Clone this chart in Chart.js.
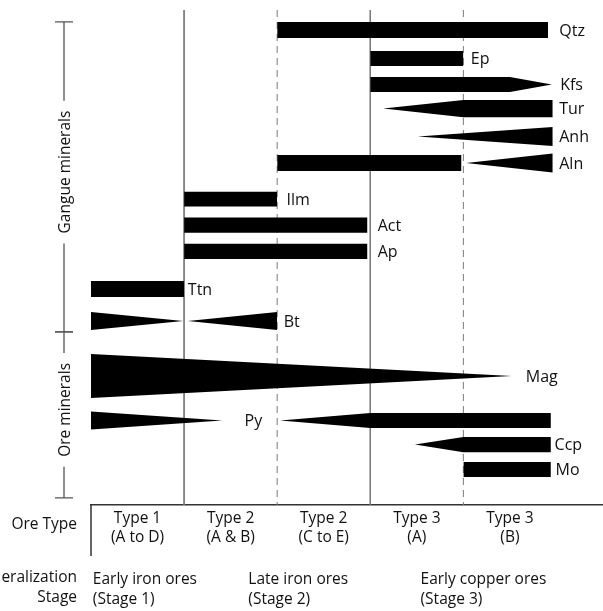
<!DOCTYPE html>
<html>
<head>
<meta charset="utf-8">
<script src="https://cdn.jsdelivr.net/npm/chart.js@4"></script>
<style>
  html, body { margin: 0; padding: 0; background: #fff; }
  #wrap { width: 603px; height: 611px; }
</style>
</head>
<body>
<div id="wrap"><canvas id="myChart"></canvas></div>
<script>
// minerals, top to bottom, and the row each one sits on
const minerals = ['Qtz', 'Ep', 'Kfs', 'Tur', 'Anh', 'Aln', 'Ilm', 'Act', 'Ap', 'Ttn', 'Bt', 'Mag', 'Py', 'Ccp', 'Mo'];
const rows = [0, 1.05, 2.01, 2.9, 3.93, 4.91, 6.24, 7.2, 8.17, 9.56, 10.74, 12.77, 14.41, 15.3, 16.22];

// abundance profile of each mineral: pieces of [stage position, thickness]
const profiles = [
  [[[2.0, 0.59], [4.91, 0.59]]],
  [[[3.0, 0.56], [4.0, 0.56]]],
  [[[3.0, 0.56], [4.5, 0.56], [4.95, 0]]],
  [[[3.14, 0], [4.0, 0.63], [4.96, 0.63]]],
  [[[3.51, 0], [4.96, 0.7]]],
  [[[2.0, 0.59], [3.98, 0.59]], [[4.03, 0], [4.96, 0.7]]],
  [[[1.0, 0.55], [2.0, 0.55]]],
  [[[1.0, 0.56], [2.97, 0.56]]],
  [[[1.0, 0.56], [2.97, 0.56]]],
  [[[0, 0.59], [1.0, 0.59]]],
  [[[0, 0.66], [0.99, 0]], [[1.04, 0], [2.0, 0.66]]],
  [[[0, 1.62], [4.52, 0]]],
  [[[0, 0.66], [1.41, 0]], [[2.03, 0], [3.0, 0.56], [4.94, 0.56]]],
  [[[3.48, 0], [4.0, 0.56], [4.94, 0.56]]],
  [[[4.0, 0.56], [4.94, 0.56]]]
];
const labelX = [5.03, 4.08, 5.04, 5.03, 5.03, 5.03, 2.1, 3.08, 3.08, 1.04, 2.07, 4.67, 1.65, 4.98, 4.99];

// ore types along the bottom
const typeCenters = [0.5, 1.5, 2.5, 3.5, 4.5];
const oreTypes = [['Type 1', '(A to D)'], ['Type 2', '(A & B)'], ['Type 2', '(C to E)'], ['Type 3', '(A)'], ['Type 3', '(B)']];
const typeTitle = 'Ore Type';

// mineralization stages
const stageStart = [0.02, 1.69, 3.54];
const stageNames = [['Early iron ores', '(Stage 1)'], ['Late iron ores', '(Stage 2)'], ['Early copper ores', '(Stage 3)']];
const stageTitle = ['Mineralization', 'Stage'];

// boundaries between ore types
const boundaries = [1, 2, 3, 4];
const boundaryDashed = [false, true, false, true];

// mineral groups on the left
const groupNames = ['Gangue minerals', 'Ore minerals'];
const groupFrom = [-0.3, 11.14];
const groupTo = [11.14, 17.27];
const groupMid = [5.24, 14.02];

const yMin = -0.74, yMax = 17.53;
const textColor = '#111';
const fontFamily = '"Open Sans"';

const datasets = [];
profiles.forEach((pieces, i) => {
  pieces.forEach(piece => {
    datasets.push({
      data: piece.map(p => ({ x: p[0], y: rows[i] - p[1] / 2 })),
      borderWidth: 0, pointRadius: 0, fill: false
    });
    datasets.push({
      data: piece.map(p => ({ x: p[0], y: rows[i] + p[1] / 2 })),
      borderWidth: 0, pointRadius: 0, fill: '-1', backgroundColor: '#000'
    });
  });
});
boundaries.forEach((b, i) => {
  datasets.push({
    data: [{ x: b, y: yMin }, { x: b, y: yMax }],
    borderColor: '#7a7a7a', borderWidth: 1,
    borderDash: boundaryDashed[i] ? [7, 5] : [],
    pointRadius: 0, fill: false, order: 10
  });
});

const annotate = {
  id: 'annotate',
  afterDraw(chart) {
    const { ctx, scales: { x, y } } = chart;
    ctx.save();
    ctx.fillStyle = textColor;

    // mineral names
    ctx.font = '16px ' + fontFamily;
    ctx.textAlign = 'left';
    minerals.forEach((m, i) => {
      ctx.fillText(m, x.getPixelForValue(labelX[i]), y.getPixelForValue(rows[i]) + 5.7);
    });

    // left edge of the ore type box
    ctx.strokeStyle = '#333';
    ctx.lineWidth = 1.5;
    ctx.beginPath();
    ctx.moveTo(x.left, y.bottom);
    ctx.lineTo(x.left, y.bottom + 51);
    ctx.stroke();

    // group brackets
    const bx = x.left - 27;
    ctx.strokeStyle = '#555';
    ctx.lineWidth = 1.3;
    ctx.font = '15.5px ' + fontFamily;
    groupNames.forEach((g, i) => {
      const t = y.getPixelForValue(groupFrom[i]);
      const b = y.getPixelForValue(groupTo[i]);
      const c = y.getPixelForValue(groupMid[i]);
      const half = ctx.measureText(g).width / 2 + 10;
      ctx.beginPath();
      ctx.moveTo(bx, t); ctx.lineTo(bx, c - half);
      ctx.moveTo(bx, c + half); ctx.lineTo(bx, b);
      ctx.moveTo(bx - 9, t); ctx.lineTo(bx + 9, t);
      ctx.moveTo(bx - 9, b); ctx.lineTo(bx + 9, b);
      ctx.stroke();
      ctx.save();
      ctx.translate(bx + 5.5, c);
      ctx.rotate(-Math.PI / 2);
      ctx.textAlign = 'center';
      ctx.fillText(g, 0, 0);
      ctx.restore();
    });

    // titles of the bottom rows
    ctx.textAlign = 'right';
    ctx.fillText(typeTitle, x.left - 14, y.bottom + 24);
    ctx.fillText(stageTitle[0], x.left - 14, y.bottom + 77);
    ctx.fillText(stageTitle[1], x.left - 14, y.bottom + 97);
    ctx.restore();
  }
};

new Chart(document.getElementById('myChart'), {
  type: 'line',
  data: { datasets: datasets },
  plugins: [annotate],
  options: {
    responsive: true,
    maintainAspectRatio: false,
    animation: false,
    layout: { padding: { left: 91, right: 0, top: 10, bottom: 0 } },
    elements: { line: { tension: 0 } },
    plugins: { legend: { display: false }, tooltip: { enabled: false } },
    scales: {
      x: {
        type: 'linear', min: 0, max: 5.5, position: 'bottom', weight: 0,
        afterBuildTicks: axis => { axis.ticks = typeCenters.map(v => ({ value: v })); },
        afterFit: axis => { axis.height = 42; },
        ticks: {
          autoSkip: false, maxRotation: 0, padding: 4, color: textColor,
          font: { family: 'Open Sans', size: 15.5, lineHeight: 1.23 },
          callback: (value, index) => oreTypes[index]
        },
        grid: { display: false, drawTicks: false },
        border: { display: true, color: '#333', width: 1.5 }
      },
      x2: {
        type: 'linear', min: 0, max: 5.5, position: 'bottom', weight: 1,
        afterBuildTicks: axis => { axis.ticks = stageStart.map(v => ({ value: v })); },
        afterFit: axis => { axis.height = 64; },
        ticks: {
          autoSkip: false, maxRotation: 0, padding: 23, align: 'start', color: textColor,
          font: { family: 'Open Sans', size: 15.5, lineHeight: 1.29 },
          callback: (value, index) => stageNames[index]
        },
        grid: { display: false, drawTicks: false },
        border: { display: false }
      },
      y: { type: 'linear', reverse: true, min: yMin, max: yMax, display: false }
    }
  }
});
</script>
</body>
</html>
